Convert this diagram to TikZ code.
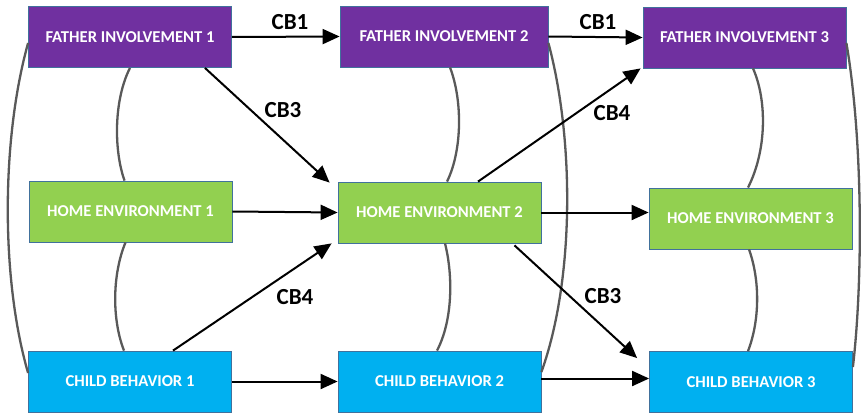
\documentclass[tikz,border=0pt]{standalone}
\usepackage{fontspec}
\setmainfont{Carlito}[BoldFont={Carlito Bold}]
\usetikzlibrary{arrows.meta}

\definecolor{fipurple}{RGB}{112,48,160}
\definecolor{hegreen}{RGB}{146,208,80}
\definecolor{cbblue}{RGB}{0,176,240}
\definecolor{boxedge}{RGB}{65,113,156}
\definecolor{corrgray}{RGB}{89,89,89}

\begin{document}
\begin{tikzpicture}[x=1pt,y=-1pt,
	box/.style={draw=boxedge,line width=0.8pt,minimum width=203pt,minimum height=61pt,inner sep=0pt,text=white,font=\fontsize{16.6}{18}\selectfont\bfseries},
	arr/.style={line width=2pt,-{Triangle[length=17pt,width=15pt]}},
	corr/.style={corrgray,line width=2.3pt},
	lbl/.style={font=\fontsize{23}{25}\selectfont\bfseries,inner sep=0pt}]
	\useasboundingbox (0,0) rectangle (861,415);

	% boxes
	\node[box,fill=fipurple] (fi1) at (130,37) {FATHER INVOLVEMENT 1};
	\node[box,fill=hegreen] (he1) at (130.5,211.5) {HOME ENVIRONMENT 1};
	\node[box,fill=cbblue] (cb1) at (130,381.5) {CHILD BEHAVIOR 1};
	\node[box,fill=fipurple,minimum width=208pt] (fi2) at (444,36.5) {FATHER INVOLVEMENT 2};
	\node[box,fill=hegreen] (he2) at (439.5,212.5) {HOME ENVIRONMENT 2};
	\node[box,fill=cbblue] (cb2) at (439.5,381.5) {CHILD BEHAVIOR 2};
	\node[box,fill=fipurple] (fi3) at (744.5,37.5) {FATHER INVOLVEMENT 3};
	\node[box,fill=hegreen] (he3) at (750.5,218.5) {HOME ENVIRONMENT 3};
	\node[box,fill=cbblue] (cb3) at (751,382) {CHILD BEHAVIOR 3};

	% correlations
	\draw[corr] (fi1.south) .. controls (113.7,100) and (113.7,150) .. ([xshift=-6pt]he1.north);
	\draw[corr] ([xshift=-5pt]he1.south) .. controls (112,275) and (112,320) .. ([xshift=-6pt]cb1.north);
	\draw[corr] ([yshift=-6pt]fi1.west) .. controls (1,140) and (1,280) .. ([yshift=8.5pt]cb1.west);
	\draw[corr] ([xshift=6pt]fi2.south) .. controls (462.5,100) and (462.5,150) .. ([xshift=7.5pt]he2.north);
	\draw[corr] ([xshift=5.5pt]he2.south) .. controls (453,275) and (453,320) .. ([xshift=-2.5pt]cb2.north);
	\draw[corr] ([yshift=-6.5pt]fi2.east) .. controls (574.5,140) and (574.5,280) .. ([yshift=9.5pt]cb2.east);
	\draw[corr] ([xshift=8.5pt]fi3.south) .. controls (767,100) and (767,150) .. ([xshift=-2.5pt]he3.north);
	\draw[corr] ([xshift=-1.5pt]he3.south) .. controls (760,280) and (760,320) .. ([xshift=-3pt]cb3.north);
	\draw[corr] ([yshift=-5.5pt]fi3.east) .. controls (863,140) and (863,280) .. ([yshift=15pt]cb3.east);

	% cross-lagged paths
	\draw[arr] (fi1.east) -- (fi2.west);
	\draw[arr] (fi2.east) -- (fi3.west);
	\draw[arr] ([xshift=-27pt]fi1.south east) -- ([xshift=-8pt,yshift=-1pt]he2.north west);
	\draw[arr] (he1.east) -- (he2.west);
	\draw[arr] ([xshift=43pt]cb1.north) -- ([xshift=-6pt]he2.south west);
	\draw[arr] ([xshift=38.5pt]he2.north) -- ([xshift=-2pt]fi3.south west);
	\draw[arr] (he2.east) -- (he2.east -| he3.west);
	\draw[arr] ([xshift=75pt,yshift=-2pt]he2.south) -- ([xshift=-12pt,yshift=-7pt]cb3.north west);
	\draw[arr] (cb1.east) -- (cb2.west);
	\draw[arr] ([yshift=3pt]cb2.east) -- ([yshift=3pt]cb2.east -| cb3.west);

	% labels
	\node[lbl] (l1a) at (290,22) {CB1};
	\node[lbl] (l1b) at (598,22) {CB1};
	\node[lbl] (l3a) at (283,110) {CB3};
	\node[lbl] (l4a) at (295,297) {CB4};
	\node[lbl] (l4b) at (612,113) {CB4};
	\node[lbl] (l3b) at (603,296) {CB3};
\end{tikzpicture}
\end{document}
